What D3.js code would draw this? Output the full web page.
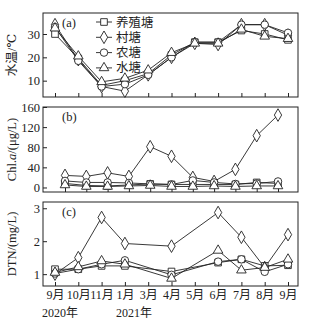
<!DOCTYPE html>
<html><head><meta charset="utf-8">
<script src="https://cdn.jsdelivr.net/npm/d3@7"></script>
<style>
html,body{margin:0;padding:0;background:#fff;}
text{font-family:"Liberation Serif","DejaVu Serif","Noto Sans CJK SC",serif;fill:#222;}
</style></head><body>
<svg id="c" width="322" height="322"></svg>
<script>
const months = ["9月","10月","11月","1月","3月","4月","5月","6月","7月","8月","9月"];
const seriesNames = ["养殖塘","村塘","农塘","水塘"];
const seriesShapes = ["square","diamond","circle","triangle"];

const tempSquare   = [30, 19.5, 8, 10, 13, 21, 26.5, 26.5, 31.5, 30, 27.5];
const tempDiamond  = [34, 19, 7.5, 5.5, 12.5, 20, 26, 25.5, 34, 34, 29.5];
const tempCircle   = [33, 18.5, 7.5, 8.5, 12.5, 20, 26.5, 26.5, 34, 34, 30.5];
const tempTriangle = [32.5, 20.5, 9.5, 11, 14.5, 22, 26, 26, 32, 29, 28];

const chlSquare   = [8, 4, 3, 5, 7, 6, 6, 6, 6, 10, 8];
const chlDiamond  = [24, 22, 29, 22, 81, 62, 20, 12, 36, 103, 144];
const chlCircle   = [13, 10, 10, 9, 7, 6, 14, 10, 7, 8, 12];
const chlTriangle = [5, 2, 2, 3, 4, 2, 2, 3, 2, 3, 3];

const dtnIdx      = [0, 1, 2, 3, 5, 7, 8, 9, 10];
const dtnSquare   = [1.15, 1.15, 1.25, 1.25, 1.08, 1.35, 1.45, 1.25, 1.27];
const dtnDiamond  = [1.0, 1.5, 2.72, 1.93, 1.85, 2.87, 2.12, 1.2, 2.2];
const dtnCircle   = [1.02, 1.15, 1.3, 1.42, 0.98, 1.38, 1.45, 1.07, 1.3];
const dtnTriangle = [1.05, 1.22, 1.4, 1.3, 0.87, 1.72, 1.12, 1.2, 1.45];

const tempTicks = [10, 20, 30];
const chlTicks = [0, 40, 80, 120, 160];
const dtnTicks = [1, 2, 3];
const yearLabels = ["2020年","2021年"];
const yearIdx = [0, 3];

const svg = d3.select("#c");
const L = 43, R = 298;
const idx = d3.range(months.length);
const xA = d3.scalePoint().domain(idx).range([55, 288]);
const xB = d3.scalePoint().domain(idx).range([65, 278]);

const symMap = {
  square: d3.symbol().type(d3.symbolSquare).size(44),
  diamond: d3.symbol().type(d3.symbolDiamond).size(46),
  circle: d3.symbol().type(d3.symbolCircle).size(44),
  triangle: d3.symbol().type(d3.symbolTriangle).size(40)
};

function panel(cfg){
  const g = svg.append("g");
  const y = d3.scaleLinear().domain(cfg.domain).range([cfg.bottom, cfg.top]);
  const x = cfg.x;
  g.append("rect").attr("x", L).attr("y", cfg.top).attr("width", R-L).attr("height", cfg.bottom-cfg.top)
    .attr("fill","none").attr("stroke","#222").attr("stroke-width",1);
  const ya = g.append("g").attr("transform",`translate(${L},0)`)
    .call(d3.axisLeft(y).tickValues(cfg.ticks).tickSize(-4).tickPadding(3).tickFormat(d3.format("d")));
  ya.select(".domain").remove();
  ya.selectAll("line").attr("stroke","#222");
  ya.selectAll("text").attr("font-size",12.5).attr("fill","#222");
  const xa = g.append("g").attr("transform",`translate(0,${cfg.bottom})`)
    .call(d3.axisBottom(x).tickSize(-4).tickPadding(4).tickFormat(cfg.showLabels ? (d=>months[d]) : ""));
  xa.select(".domain").remove();
  xa.selectAll("line").attr("stroke","#222");
  xa.selectAll("text").attr("font-size",12).attr("fill","#222");
  g.append("text").attr("x",62).attr("y",cfg.top+14).attr("font-size",12.5).text(cfg.label);
  const yl = g.append("text").attr("transform",`translate(16,${(cfg.top+cfg.bottom)/2}) rotate(-90)`)
    .attr("text-anchor","middle").attr("font-size",12.5);
  cfg.ylabel(yl);
  const line = d3.line().x(d=>x(d[0])).y(d=>y(d[1]));
  cfg.series.forEach((vals,i)=>{
    const pts = vals.map((v,j)=>[cfg.index[j], v]);
    g.append("path").attr("d", line(pts)).attr("fill","none").attr("stroke","#222").attr("stroke-width",0.9);
  });
  cfg.series.forEach((vals,i)=>{
    const pts = vals.map((v,j)=>[cfg.index[j], v]);
    g.selectAll(null).data(pts).enter().append("path")
      .attr("d", symMap[seriesShapes[i]]())
      .attr("transform", d=>`translate(${x(d[0])},${y(d[1])})`)
      .attr("fill","#fff").attr("stroke","#222").attr("stroke-width",0.9);
  });
  return g;
}

panel({top:13, bottom:97, domain:[3,39], ticks:tempTicks, x:xA, index:idx, label:"(a)",
  series:[tempSquare,tempDiamond,tempCircle,tempTriangle], showLabels:false,
  ylabel: t=>t.text("水温/℃")});

panel({top:107, bottom:192, domain:[-9,160], ticks:chlTicks, x:xB, index:idx, label:"(b)",
  series:[chlSquare,chlDiamond,chlCircle,chlTriangle], showLabels:false,
  ylabel: t=>{ t.append("tspan").text("Chl."); t.append("tspan").attr("font-style","italic").text("a"); t.append("tspan").text("/(μg/L)"); }});

panel({top:202, bottom:286, domain:[0.64,3.19], ticks:dtnTicks, x:xA, index:dtnIdx, label:"(c)",
  series:[dtnSquare,dtnDiamond,dtnCircle,dtnTriangle], showLabels:true,
  ylabel: t=>t.text("DTN/(mg/L)")});

yearLabels.forEach((s,i)=>{
  svg.append("text").attr("x", xA(yearIdx[i]) + (i===0?5:9)).attr("y", 317)
    .attr("text-anchor","middle").attr("font-size",12).text(s);
});

const lg = svg.append("g");
seriesNames.forEach((n,i)=>{
  const yy = 22 + i*15.3;
  lg.append("line").attr("x1",96).attr("x2",112).attr("y1",yy).attr("y2",yy).attr("stroke","#222").attr("stroke-width",0.9);
  lg.append("path").attr("d", symMap[seriesShapes[i]]()).attr("transform",`translate(104,${yy})`)
    .attr("fill","#fff").attr("stroke","#222").attr("stroke-width",0.9);
  lg.append("text").attr("x",116).attr("y",yy+4.5).attr("font-size",12.5).text(n);
});
</script>
</body></html>
